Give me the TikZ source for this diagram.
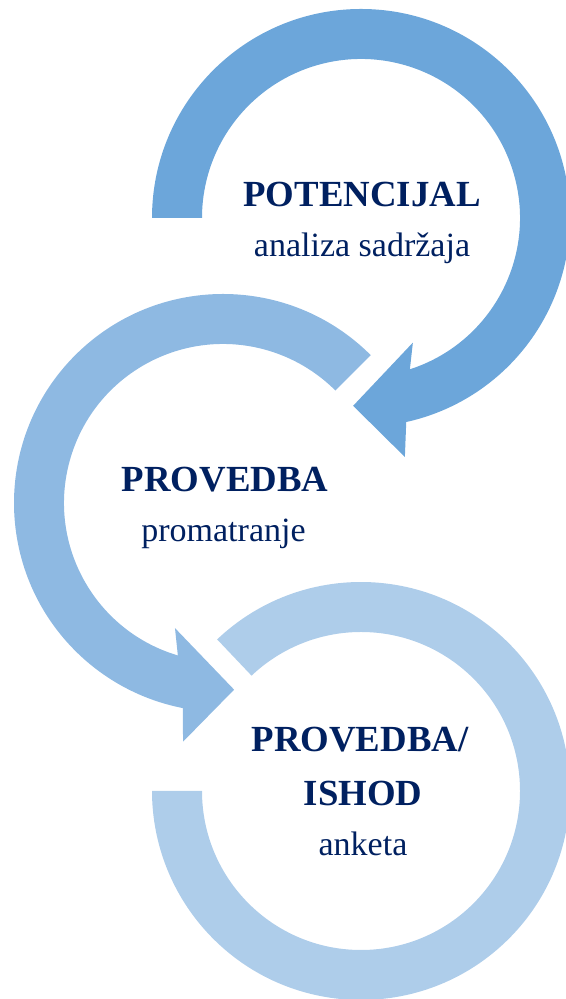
\documentclass[tikz,border=0pt]{standalone}
\usepackage{fontspec}
\setmainfont{Liberation Serif}
\definecolor{plava1}{HTML}{6CA6DA}
\definecolor{plava2}{HTML}{8EB9E2}
\definecolor{plava3}{HTML}{AECDEA}
\definecolor{tamnoplava}{HTML}{002060}

\begin{document}
\begin{tikzpicture}[
      x=0.5pt, y=0.5pt,
      naslov/.style={anchor=base, inner sep=0pt, text=tamnoplava,
                     font=\bfseries\fontsize{18.4}{22}\selectfont},
      opis/.style={anchor=base, inner sep=0pt, text=tamnoplava,
                   font=\fontsize{17}{20}\selectfont}
    ]
    \useasboundingbox (0,0) rectangle (566,999);
    \clip (0,0) rectangle (566,999);

    % donji krug, bez strelice
    \begin{scope}[shift={(361,208)}]
      \fill[plava3] (133.5:209) arc[start angle=133.5, end angle=-180, radius=209]
        -- (180:159) arc[start angle=-180, end angle=133.5, radius=159] -- cycle;
    \end{scope}
    % srednji krug
    \begin{scope}[shift={(223,496)}]
      \fill[plava2] (45:209) arc[start angle=45, end angle=258.9, radius=209]
        -- (260.5:242) -- (273.4:187) -- (249:134)
        -- (253.5:159) arc[start angle=253.5, end angle=45, radius=159] -- cycle;
    \end{scope}
    % gornji krug
    \begin{scope}[shift={(361,781)}]
      \fill[plava1] (180:209) arc[start angle=180, end angle=-77.5, radius=209]
        -- (-79.6:243) -- (-92.4:188) -- (-67.4:135)
        -- (-72.1:159) arc[start angle=-72.1, end angle=180, radius=159] -- cycle;
    \end{scope}

    \node[naslov] (potencijal)  at (362,792)   {POTENCIJAL};
    \node[opis]   (analiza)     at (362,742)   {analiza sadržaja};
    \node[naslov] (provedba)    at (225,507)   {PROVEDBA};
    \node[opis]   (promatranje) at (223.5,457) {promatranje};
    \node[naslov] (provedbais)  at (360,247)   {PROVEDBA/};
    \node[naslov] (ishod)       at (363,193)   {ISHOD};
    \node[opis]   (anketa)      at (363,143)   {anketa};
  \end{tikzpicture}
\end{document}
